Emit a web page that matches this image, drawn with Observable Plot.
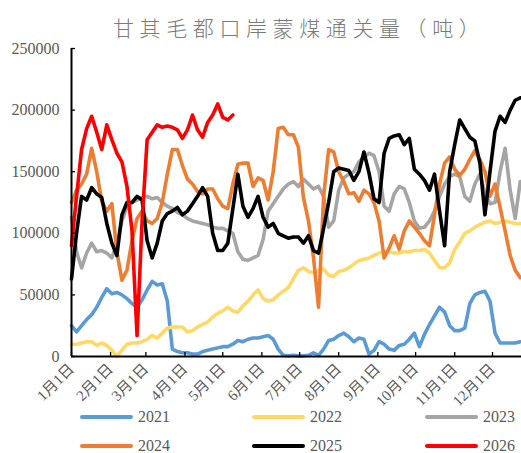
<!DOCTYPE html>
<html><head><meta charset="utf-8">
<script src="https://cdn.jsdelivr.net/npm/d3@7"></script>
<script src="https://cdn.jsdelivr.net/npm/@observablehq/plot@0.6"></script>
<style>
body{margin:0;background:#fff;}
#wrap{position:relative;width:521px;height:453px;overflow:hidden;background:#fff;}
#title{position:absolute;left:113px;top:14px;font-family:"Noto Sans CJK SC";font-weight:300;font-size:21px;letter-spacing:5.6px;color:#7a7a7a;white-space:nowrap;line-height:26px;}
#chart{position:absolute;left:0;top:38px;}
.leg{position:absolute;display:flex;align-items:center;font-family:"Liberation Serif";font-size:16px;color:#595959;height:12px;line-height:12px;}
.leg i{display:inline-block;width:53px;height:4px;border-radius:2px;margin-right:5px;}
</style></head>
<body><div id="wrap"><div id="title">甘其毛都口岸蒙煤通关量（吨）</div><div id="chart"></div></div>
<script>
const years = ["2021","2022","2023","2024","2025","2026"];
const colors = ["#5B9BD5","#FFD966","#A5A5A5","#ED7D31","#000000","#FF0000"];
const monthDays = [0,31,59,90,120,151,181,212,243,273,304,334];
const monthLabels = ["1月1日","2月1日","3月1日","4月1日","5月1日","6月1日","7月1日","8月1日","9月1日","10月1日","11月1日","12月1日"];
const yTicks = [0,50000,100000,150000,200000,250000];
// day of year of each reading
const sampleDays = [
  0,4,8,12,16,20,24,28,32,36,
  40,44,48,52,56,60,64,68,72,76,
  80,84,88,92,96,100,104,108,112,116,
  120,124,128,132,136,140,144,148,152,156,
  160,164,168,172,176,180,184,188,192,196,
  200,204,208,212,216,220,224,228,232,236,
  240,244,248,252,256,260,264,268,272,276,
  280,284,288,292,296,300,304,308,312,316,
  320,324,328,332,336,340,344,348,352,356];
// values in thousand tonnes
const v2021 = [
  25,20,25,30,34,40,48,55,51,52,
  50,47,43,40,46,54,61,58,59,45,
  6,4,3,3,2,2,4,5,6,7,
  8,8,10,13,12,14,15,15,16,17,
  14,6,1,0.5,1,0.5,0.5,1,3,1,
  6,13,14,17,19,16,12,15,14,2,
  5,12,10,6,5,9,10,14,19,8,
  18,26,33,40,36,25,21,21,23,43,
  50,52,53,45,19,11,11,11,11,12];
const v2022 = [
  10,10,11,12,12,9,11,9,5,0,
  5,10,11,11,12,14,17,15,19,23,
  24,24,24,20,21,24,26,28,32,35,
  37,40,37,36,41,45,50,54,47,45,
  46,50,53,56,63,70,72,69,68,70,
  71,66,65,69,70,72,75,78,79,80,
  82,84,85,85,84,84,85,85,86,86,
  87,84,78,72,72,76,87,93,100,102,
  105,107,109,110,108,109,110,109,108,108];
const v2023 = [
  113,85,72,84,92,85,86,84,80,92,
  110,121,125,127,129,130,128,129,125,122,
  120,117,115,112,110,109,108,107,105,104,
  104,102,100,85,79,78,80,82,95,118,
  124,130,136,140,142,138,144,140,136,138,
  130,105,110,135,145,148,150,158,162,165,
  163,150,122,118,132,138,136,125,110,104,
  105,110,118,130,140,146,148,146,130,126,
  140,148,133,124,125,150,169,135,112,142];
const v2024 = [
  125,135,140,148,169,150,126,118,124,85,
  62,70,94,112,118,110,108,112,125,148,
  168,168,155,144,140,134,132,136,136,128,
  122,120,140,156,157,157,138,145,143,127,
  150,185,186,180,180,170,129,110,80,40,
  130,168,166,150,142,132,133,126,135,132,
  125,110,80,88,98,87,102,110,105,100,
  94,90,115,140,157,162,152,147,152,160,
  167,160,150,130,140,121,102,82,70,64];
const v2025 = [
  63,100,130,127,137,132,129,108,92,82,
  115,125,125,130,127,94,80,92,110,116,
  118,121,115,118,124,130,137,130,100,86,
  86,92,120,148,122,113,120,130,113,105,
  108,100,98,96,97,97,92,98,86,84,
  104,125,150,153,152,151,143,150,166,149,
  128,125,165,177,179,180,172,177,152,148,
  143,135,148,118,90,150,172,192,185,178,
  175,157,115,150,183,195,190,200,208,210];
const v2026 = [
  90,130,168,185,195,182,168,188,176,165,
  158,138,102,17,110,176,182,188,186,187,
  186,184,177,184,196,184,178,190,196,205,
  194,192,196];

const seriesValues = [v2021,v2022,v2023,v2024,v2025,v2026];
const rows = [];
years.forEach((yr,k) => seriesValues[k].forEach((v,i) => rows.push({year: yr, day: sampleDays[i], value: v*1000})));

const chart = Plot.plot({
  width: 521, height: 380,
  marginTop: 10, marginLeft: 71, marginRight: 0, marginBottom: 62,
  style: {background: "transparent", color: "#595959", overflow: "visible"},
  x: {domain: [0, 357]},
  y: {domain: [0, 250000]},
  color: {domain: years, range: colors},
  marks: [
    Plot.line(rows, {x: "day", y: "value", stroke: "year", z: "year", strokeWidth: 3.6, strokeLinejoin: "round", strokeLinecap: "round"}),
    Plot.ruleY([0], {stroke: "#000", strokeWidth: 2}),
    Plot.ruleX([0], {stroke: "#000", strokeWidth: 2}),
    Plot.ruleX(monthDays, {x: d => d, y1: 0, y2: 3300, stroke: "#000", strokeWidth: 1.3}),
    Plot.ruleY(yTicks, {y: d => d, x1: 0, x2: 3.2, stroke: "#000", strokeWidth: 1.3}),
    Plot.axisY({ticks: yTicks, tickFormat: d3.format("d"), tickSize: 0, tickPadding: 12, fontSize: 16, fontFamily: "Liberation Serif", label: null}),
    Plot.axisX({ticks: monthDays, tickFormat: d => monthLabels[monthDays.indexOf(d)], tickSize: 0, tickPadding: 10, tickRotate: -45, fontSize: 15, fontFamily: "'Liberation Serif','Noto Sans CJK SC'", label: null})
  ]
});
document.getElementById("chart").appendChild(chart);

const wrap = document.getElementById("wrap");
const legCols = [80, 252, 425];
const legRows = [411, 440];
years.forEach((yr,k) => {
  const d = document.createElement("div");
  d.className = "leg";
  d.style.left = legCols[k % 3] + "px";
  d.style.top = legRows[Math.floor(k / 3)] + "px";
  d.innerHTML = `<i style="background:${colors[k]}"></i><span>${yr}</span>`;
  wrap.appendChild(d);
});
</script>
</body></html>
